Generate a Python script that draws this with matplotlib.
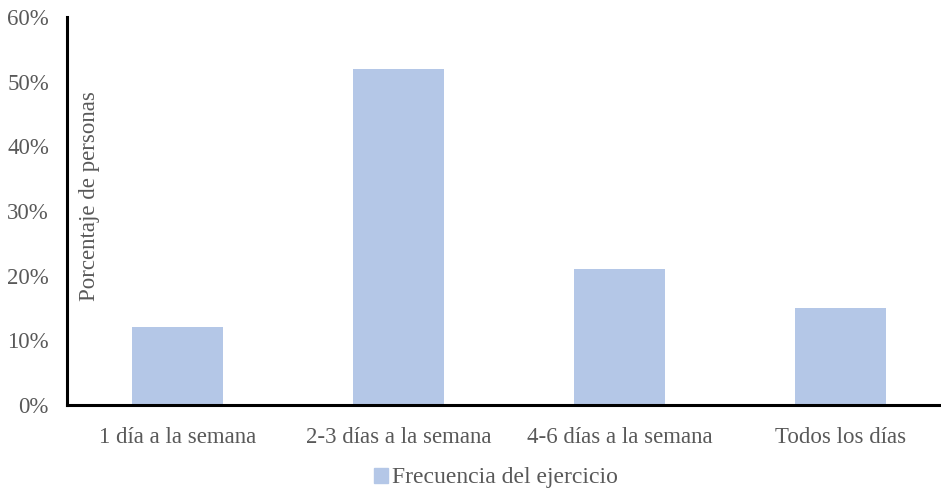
import matplotlib.pyplot as plt
from matplotlib.patches import Patch
from matplotlib.ticker import FuncFormatter

categories = ["1 día a la semana", "2-3 días a la semana", "4-6 días a la semana", "Todos los días"]
porcentajes = [12, 52, 21, 15]
y_ticks = [0, 10, 20, 30, 40, 50, 60]
serie = "Frecuencia del ejercicio"

bar_color = "#B4C7E7"
text_color = "#595959"

plt.rcParams["font.family"] = ["Liberation Serif", "DejaVu Serif"]

fig = plt.figure(figsize=(9.41, 4.88), dpi=100)
W, H = 941, 488
# axes from x=67 to beyond the right edge (cut off like the original)
ax = fig.add_axes([67 / W, 1 - 405 / H, 884 / W, (405 - 17) / H])

x = range(len(categories))
ax.bar(x, porcentajes, width=0.41, color=bar_color)
ax.set_xlim(-0.5, 3.5)
ax.set_ylim(0, 60)
ax.set_yticks(y_ticks)
ax.yaxis.set_major_formatter(FuncFormatter(lambda v, _: f"{v:.0f}%"))
ax.set_xticks(list(x))
ax.set_xticklabels(categories)
ax.tick_params(axis="both", length=0, labelsize=16.5, colors=text_color)
ax.tick_params(axis="x", pad=16)
ax.tick_params(axis="y", pad=13)

for s in ["top", "right"]:
    ax.spines[s].set_visible(False)
for s in ["left", "bottom"]:
    ax.spines[s].set_linewidth(2.2)
    ax.spines[s].set_color("black")

ax.text(23 / 884, (405 - 196) / (405 - 17), "Porcentaje de personas", rotation=90,
        ha="center", va="center", transform=ax.transAxes, fontsize=16.5, color=text_color)

fig.legend(handles=[Patch(color=bar_color, label=serie)], loc="center",
           bbox_to_anchor=(496 / W, 1 - 478 / H), frameon=False, fontsize=17,
           handlelength=0.6, handleheight=0.6, handletextpad=0.15, labelcolor=text_color)

fig.savefig("out.png", dpi=100)
